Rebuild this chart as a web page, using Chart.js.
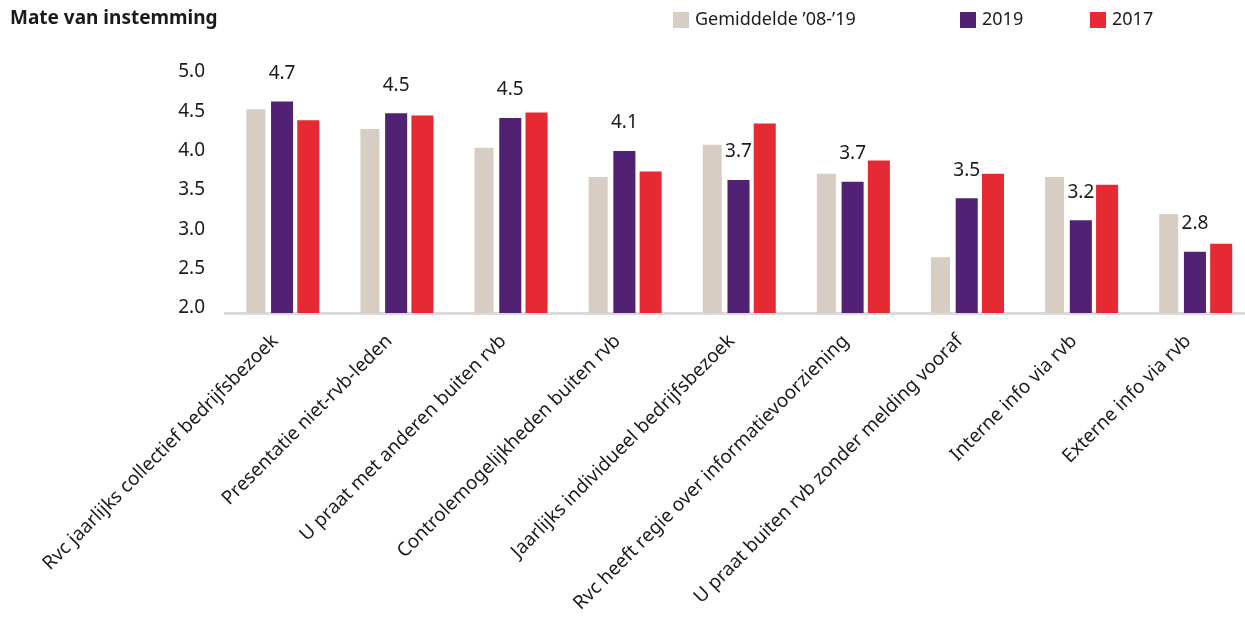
<!DOCTYPE html>
<html>
<head>
<meta charset="utf-8">
<script src="https://cdn.jsdelivr.net/npm/chart.js@4.4.0/dist/chart.umd.min.js"></script>
<style>
    html, body { margin: 0; padding: 0; background: #fff; overflow: hidden; }
    #wrap { position: relative; width: 1252px; height: 622px; }
</style>
</head>
<body>
<div id="wrap"><canvas id="chart"></canvas></div>
<script>
const categories = [
    'Rvc jaarlijks collectief bedrijfsbezoek',
    'Presentatie niet-rvb-leden',
    'U praat met anderen buiten rvb',
    'Controlemogelijkheden buiten rvb',
    'Jaarlijks individueel bedrijfsbezoek',
    'Rvc heeft regie over informatievoorziening',
    'U praat buiten rvb zonder melding vooraf',
    'Interne info via rvb',
    'Externe info via rvb'
];
const seriesNames = ["Gemiddelde \u201908-\u201919", '2019', '2017'];
const gemiddelde = [4.59, 4.34, 4.10, 3.73, 4.14, 3.77, 2.71, 3.73, 3.26];
const values2019 = [4.69, 4.54, 4.48, 4.06, 3.69, 3.67, 3.46, 3.18, 2.78];
const values2017 = [4.45, 4.51, 4.55, 3.80, 4.41, 3.94, 3.77, 3.63, 2.88];
const yTicks = [2.0, 2.5, 3.0, 3.5, 4.0, 4.5, 5.0];

const colors = ['#d8cdc2', '#512273', '#e52a33'];
const textColor = '#1a1a1a';

Chart.defaults.font.family = "'Noto Sans', sans-serif";
Chart.defaults.color = textColor;

// titel linksboven
const titlePlugin = {
    id: 'titleText',
    afterDraw(chart) {
        const c = chart.ctx;
        c.save();
        c.font = "bold 19px 'Noto Sans', sans-serif";
        c.fillStyle = textColor;
        c.textBaseline = 'middle';
        c.textAlign = 'left';
        c.fillText('Mate van instemming', 10, 19);
        c.restore();
    }
};

// legenda met vaste posities
const legendX = [673, 960, 1090];
const legendPlugin = {
    id: 'legendBoxes',
    afterDraw(chart) {
        const c = chart.ctx;
        c.save();
        c.font = "18px 'Noto Sans', sans-serif";
        c.textBaseline = 'middle';
        chart.data.datasets.forEach((ds, i) => {
            c.fillStyle = ds.backgroundColor;
            c.fillRect(legendX[i], 12, 16, 16);
            c.fillStyle = textColor;
            c.fillText(ds.label, legendX[i] + 22, 20);
        });
        c.restore();
    }
};

// waarden 2019 boven de paarse staven
const valueLabels = {
    id: 'valueLabels',
    afterDatasetsDraw(chart) {
        const c = chart.ctx;
        const meta = chart.getDatasetMeta(1);
        c.save();
        c.font = "19px 'Noto Sans', sans-serif";
        c.fillStyle = textColor;
        c.textAlign = 'center';
        c.textBaseline = 'middle';
        meta.data.forEach((bar, i) => {
            c.fillText(values2019[i].toFixed(1), bar.x, bar.y - 28);
        });
        c.restore();
    }
};

const ctx = document.getElementById('chart').getContext('2d');
let barChart = new Chart(ctx, {
    type: 'bar',
    data: {
        labels: categories,
        datasets: [
            { label: seriesNames[0], data: gemiddelde, backgroundColor: colors[0], maxBarThickness: 19 },
            { label: seriesNames[1], data: values2019, backgroundColor: colors[1] },
            { label: seriesNames[2], data: values2017, backgroundColor: colors[2] }
        ]
    },
    options: {
        responsive: true,
        maintainAspectRatio: false,
        animation: false,
        datasets: { bar: { categoryPercentage: 0.69, barPercentage: 0.84 } },
        layout: { padding: { top: 77, left: 0, right: 0, bottom: 0 } },
        plugins: { legend: { display: false }, tooltip: { enabled: false } },
        scales: {
            x: {
                grid: { display: false, drawTicks: false },
                border: { display: true, color: '#dadada', width: 3 },
                ticks: {
                    autoSkip: false,
                    minRotation: 45,
                    maxRotation: 45,
                    padding: 17,
                    labelOffset: -7,
                    color: textColor,
                    font: { size: 19 }
                },
                afterFit(scale) { scale.height = 309; }
            },
            y: {
                min: 2,
                max: 5,
                afterBuildTicks(scale) { scale.ticks = yTicks.map(v => ({ value: v })); },
                grid: { display: false, drawTicks: false },
                border: { display: false },
                ticks: {
                    padding: 20,
                    labelOffset: -5,
                    color: textColor,
                    font: { size: 19 },
                    callback: v => v.toFixed(1)
                },
                afterFit(scale) { scale.width = 225; }
            }
        }
    },
    plugins: [titlePlugin, legendPlugin, valueLabels]
});
</script>
</body>
</html>
